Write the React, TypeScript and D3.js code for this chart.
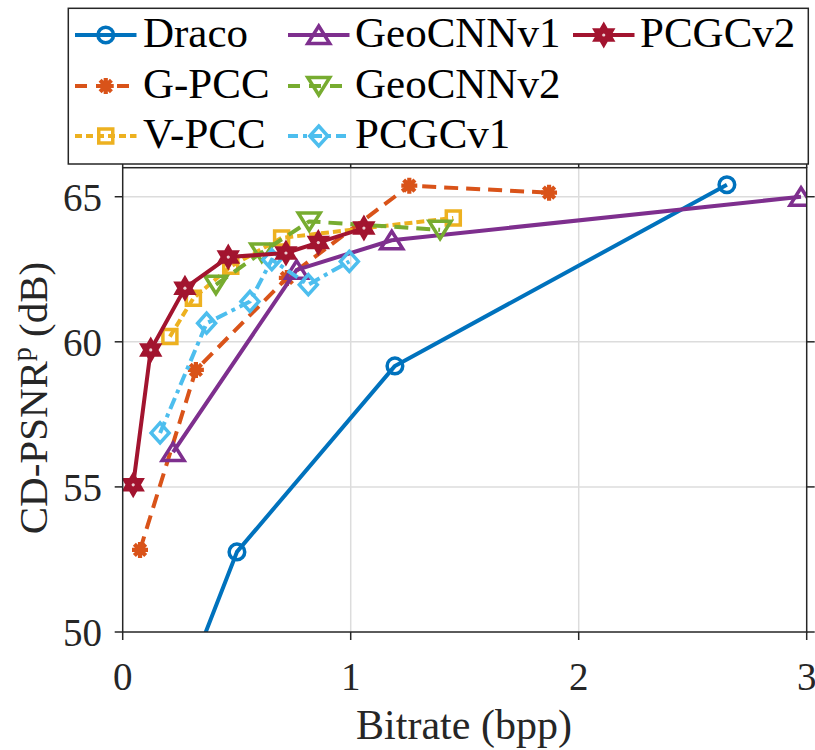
import React from 'react';
import * as d3 from 'd3';

const xTicks = [0, 1, 2, 3];
const yTicks = [50, 55, 60, 65];

const dracoX = [0.3, 0.501, 1.194, 2.65];
const dracoY = [48.7, 52.76, 59.17, 65.41];
const gpccX = [0.076, 0.321, 0.72, 1.257, 1.87];
const gpccY = [52.83, 59.03, 62.2, 65.38, 65.14];
const vpccX = [0.207, 0.31, 0.474, 0.697, 1.45];
const vpccY = [60.18, 61.5, 62.6, 63.58, 64.27];
const geo1X = [0.221, 0.763, 1.18, 2.975];
const geo1Y = [56.2, 62.48, 63.5, 65.0];
const geo2X = [0.409, 0.61, 0.818, 1.392];
const geo2Y = [61.97, 63.08, 64.15, 63.86];
const pcgc1X = [0.164, 0.368, 0.558, 0.654, 0.814, 0.994];
const pcgc1Y = [56.86, 60.64, 61.39, 62.83, 61.97, 62.77];
const pcgc2X = [0.046, 0.123, 0.273, 0.463, 0.716, 0.858, 1.058];
const pcgc2Y = [55.07, 59.72, 61.85, 62.92, 63.06, 63.42, 63.92];

type Marker = 'o' | '*' | 's' | '^' | 'v' | 'd' | 'h';
interface Series { name: string; color: string; dash: string; legDash: string; marker: Marker; xs: number[]; ys: number[]; }

const series: Series[] = [
  { name: 'Draco', color: '#0072BD', dash: '', legDash: '', marker: 'o', xs: dracoX, ys: dracoY },
  { name: 'G-PCC', color: '#D95319', dash: '14,8', legDash: '12,9', marker: '*', xs: gpccX, ys: gpccY },
  { name: 'V-PCC', color: '#EDB120', dash: '8,4', legDash: '7,4', marker: 's', xs: vpccX, ys: vpccY },
  { name: 'GeoCNNv1', color: '#7E2F8E', dash: '', legDash: '', marker: '^', xs: geo1X, ys: geo1Y },
  { name: 'GeoCNNv2', color: '#77AC30', dash: '14,8', legDash: '12,9', marker: 'v', xs: geo2X, ys: geo2Y },
  { name: 'PCGCv1', color: '#4DBEEE', dash: '12,5,4,5', legDash: '10,5,4,5', marker: 'd', xs: pcgc1X, ys: pcgc1Y },
  { name: 'PCGCv2', color: '#A2142F', dash: '', legDash: '', marker: 'h', xs: pcgc2X, ys: pcgc2Y },
];

const legendOrder = [
  ['Draco', 'GeoCNNv1', 'PCGCv2'],
  ['G-PCC', 'GeoCNNv2'],
  ['V-PCC', 'PCGCv1'],
];

const FONT = "'Liberation Serif'";

function markerPath(m: Marker): string {
  switch (m) {
    case 'o': {
      const r = 7.8;
      return `M${r},0A${r},${r},0,1,1,${-r},0A${r},${r},0,1,1,${r},0Z`;
    }
    case '^':
      return 'M0,-9L11,8.5L-11,8.5Z';
    case 'v':
      return 'M0,9L11,-8.5L-11,-8.5Z';
    case 's':
      return 'M-7,-7L7,-7L7,7L-7,7Z';
    case 'd':
      return 'M0,-10L9,0L0,10L-9,0Z';
    case '*': {
      const r = 8;
      const a = r * Math.SQRT1_2;
      return `M${-r},0L${r},0M0,${-r}L0,${r}M${-a},${-a}L${a},${a}M${-a},${a}L${a},${-a}`;
    }
    case 'h': {
      const R = 11.5, ri = 11.5 / Math.sqrt(3);
      const pts: string[] = [];
      for (let i = 0; i < 12; i++) {
        const ang = -Math.PI / 2 + (i * Math.PI) / 6;
        const rr = i % 2 === 0 ? R : ri;
        pts.push(`${(rr * Math.cos(ang)).toFixed(2)},${(rr * Math.sin(ang)).toFixed(2)}`);
      }
      return 'M' + pts.join('L') + 'Z';
    }
  }
  return '';
}

function MarkerMark({ m, cx, cy, color }: { m: Marker; cx: number; cy: number; color: string }) {
  if (m === 'h') {
    return (
      <g transform={`translate(${cx},${cy})`}>
        <path d={markerPath(m)} fill={color} stroke={color} strokeWidth={2} />
        <circle r={1.6} fill="#fff" opacity={0.8} />
      </g>
    );
  }
  return <path d={markerPath(m)} transform={`translate(${cx},${cy})`} fill="none" stroke={color} strokeWidth={m === '*' ? 4.2 : 3.5} />;
}

export default function App() {
  const W = 815, H = 750;
  const left = 122.7, right = 806.7, top = 167.7, bottom = 632;
  const x = d3.scaleLinear().domain([0, 3]).range([left, right]);
  const y = d3.scaleLinear().domain([50, 66]).range([bottom, top]);
  const axisColor = '#262626';
  const tickLen = 8;

  const line = d3.line<[number, number]>().x(d => x(d[0])).y(d => y(d[1]));

  const byName: Record<string, Series> = {};
  series.forEach(s => (byName[s.name] = s));

  const legCols = [
    { lx0: 75, lx1: 136.5, tx: 143 },
    { lx0: 288, lx1: 349.5, tx: 355 },
    { lx0: 573, lx1: 634.5, tx: 640 },
  ];
  const legRows = [35, 86, 136];
  const textStyle = { fontFamily: FONT };

  return (
    <svg width={W} height={H} style={{ display: 'block', position: 'absolute', left: 0, top: 0 }}>
      <rect x={0} y={0} width={W} height={H} fill="#fff" />
      <defs>
        <clipPath id="plotclip">
          <rect x={left} y={top} width={right - left} height={bottom - top} />
        </clipPath>
      </defs>
      {xTicks.filter(t => t > 0 && t < 3).map(t => (
        <line key={'gx' + t} x1={x(t)} x2={x(t)} y1={top} y2={bottom} stroke="#dcdcdc" strokeWidth={1.5} />
      ))}
      {yTicks.filter(t => t > 50).map(t => (
        <line key={'gy' + t} x1={left} x2={right} y1={y(t)} y2={y(t)} stroke="#dcdcdc" strokeWidth={1.5} />
      ))}
      <g clipPath="url(#plotclip)">
        {series.map(s => {
          const pts: [number, number][] = s.xs.map((v, i) => [v, s.ys[i]]);
          return (
            <g key={s.name}>
              <path d={line(pts) || ''} fill="none" stroke={s.color} strokeWidth={4} strokeDasharray={s.dash || undefined} strokeLinejoin="round" />
              {pts.map((p, i) => (
                <MarkerMark key={i} m={s.marker} cx={x(p[0])} cy={y(p[1])} color={s.color} />
              ))}
            </g>
          );
        })}
      </g>
      <rect x={left} y={top} width={right - left} height={bottom - top} fill="none" stroke={axisColor} strokeWidth={1.5} />
      {xTicks.map(t => (
        <g key={'xt' + t}>
          <line x1={x(t)} x2={x(t)} y1={bottom} y2={bottom + tickLen} stroke={axisColor} strokeWidth={1.5} />
          <line x1={x(t)} x2={x(t)} y1={top} y2={top - tickLen} stroke={axisColor} strokeWidth={1.5} />
          <text x={x(t)} y={690} textAnchor="middle" style={textStyle} fontSize={39} fill="#262626">{t}</text>
        </g>
      ))}
      {yTicks.map(t => (
        <g key={'yt' + t}>
          <line x1={left} x2={left - tickLen} y1={y(t)} y2={y(t)} stroke={axisColor} strokeWidth={1.5} />
          <line x1={right} x2={right + tickLen} y1={y(t)} y2={y(t)} stroke={axisColor} strokeWidth={1.5} />
          <text x={102} y={y(t) + 14} textAnchor="end" style={textStyle} fontSize={39} fill="#262626">{t}</text>
        </g>
      ))}
      <text x={464} y={739} textAnchor="middle" style={textStyle} fontSize={42} fill="#262626">Bitrate (bpp)</text>
      <text transform="translate(47,398) rotate(-90)" textAnchor="middle" style={textStyle} fontSize={41} fill="#262626">
        CD-PSNR<tspan fontSize={28} dy={-16}>p</tspan><tspan dy={16}> (dB)</tspan>
      </text>
      <rect x={68.3} y={8.3} width={740} height={155.7} fill="#fff" stroke={axisColor} strokeWidth={1.5} />
      {legendOrder.map((row, ri) =>
        row.map((name, ci) => {
          const s = byName[name];
          const c = legCols[ci];
          const cy = legRows[ri];
          const mx = (c.lx0 + c.lx1) / 2;
          return (
            <g key={name}>
              <line x1={c.lx0} x2={c.lx1} y1={cy} y2={cy} stroke={s.color} strokeWidth={4} strokeDasharray={s.legDash || undefined} />
              <MarkerMark m={s.marker} cx={mx} cy={cy} color={s.color} />
              <text x={c.tx} y={cy + 11.5} style={textStyle} fontSize={43} fill="#000">{name}</text>
            </g>
          );
        })
      )}
    </svg>
  );
}
